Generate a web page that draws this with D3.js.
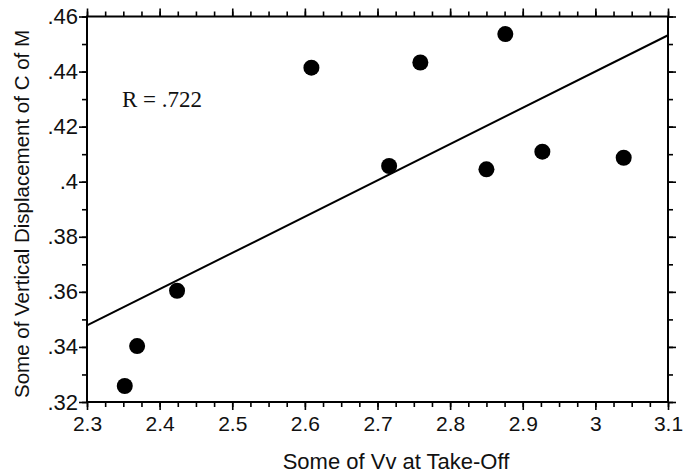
<!DOCTYPE html>
<html>
<head>
<meta charset="utf-8">
<script src="https://cdn.jsdelivr.net/npm/d3@7"></script>
<style>
  html, body { margin: 0; padding: 0; background: #fff; }
  svg { display: block; }
</style>
</head>
<body>
<svg id="chart" width="683" height="473"></svg>
<script>
// Sum of take-off vertical velocity vs. vertical displacement of centre of mass
const vvTakeOff = [2.352, 2.369, 2.424, 2.609, 2.716, 2.759, 2.876, 2.850, 2.927, 3.039];
const vertDisp  = [0.3258, 0.3403, 0.3604, 0.4414, 0.4057, 0.4433, 0.4536, 0.4045, 0.4109, 0.4087];

const xTicks = [2.3, 2.4, 2.5, 2.6, 2.7, 2.8, 2.9, 3.0, 3.1];
const xTickLabels = ["2.3", "2.4", "2.5", "2.6", "2.7", "2.8", "2.9", "3", "3.1"];
const yTicks = [0.32, 0.34, 0.36, 0.38, 0.40, 0.42, 0.44, 0.46];
const yTickLabels = [".32", ".34", ".36", ".38", ".4", ".42", ".44", ".46"];

const xTitle = "Some of Vv at Take-Off";
const yTitle = "Some of Vertical Displacement of C of M";
const rLabel = "R = .722";

const svg = d3.select("#chart");
const plotL = 87, plotR = 668, plotT = 16.5, plotB = 402;

const x = d3.scaleLinear().domain([2.3, 3.1]).range([plotL, plotR]);
const y = d3.scaleLinear().domain([0.32, 0.46]).range([plotB, plotT]);

const sans = "'Liberation Sans', Arial, Helvetica, sans-serif";
const serif = "'Liberation Serif', 'Times New Roman', serif";

// minor tick positions
const xMinor = d3.range(0, 33).map(i => 2.3 + i * 0.025);
const yMinor = d3.range(0, 15).map(i => 0.32 + i * 0.01);

function styleAxis(g) {
  g.select(".domain").remove();
  g.selectAll("line").attr("stroke", "#000").attr("stroke-width", 1.6);
  g.selectAll("text").attr("font-family", sans).attr("font-size", 21).attr("fill", "#111");
}

// minor ticks on all four sides
svg.append("g").attr("transform", `translate(0,${plotB})`)
  .call(d3.axisBottom(x).tickValues(xMinor).tickSize(5).tickFormat(""))
  .call(styleAxis);
svg.append("g").attr("transform", `translate(0,${plotT})`)
  .call(d3.axisTop(x).tickValues(xMinor).tickSize(5).tickFormat(""))
  .call(styleAxis);
svg.append("g").attr("transform", `translate(${plotL},0)`)
  .call(d3.axisLeft(y).tickValues(yMinor).tickSize(5).tickFormat(""))
  .call(styleAxis);
svg.append("g").attr("transform", `translate(${plotR},0)`)
  .call(d3.axisRight(y).tickValues(yMinor).tickSize(5).tickFormat(""))
  .call(styleAxis);

// major ticks with labels
svg.append("g").attr("transform", `translate(0,${plotB})`)
  .call(d3.axisBottom(x).tickValues(xTicks).tickSize(8).tickPadding(6)
    .tickFormat((d, i) => xTickLabels[i]))
  .call(styleAxis);
svg.append("g").attr("transform", `translate(0,${plotT})`)
  .call(d3.axisTop(x).tickValues(xTicks).tickSize(8).tickFormat(""))
  .call(styleAxis);
svg.append("g").attr("transform", `translate(${plotL},0)`)
  .call(d3.axisLeft(y).tickValues(yTicks).tickSize(8).tickPadding(1)
    .tickFormat((d, i) => yTickLabels[i]))
  .call(styleAxis)
  .call(g => g.selectAll("text").attr("font-size", 22));
svg.append("g").attr("transform", `translate(${plotR},0)`)
  .call(d3.axisRight(y).tickValues(yTicks).tickSize(8).tickFormat(""))
  .call(styleAxis);

// frame
svg.append("rect")
  .attr("x", plotL).attr("y", plotT)
  .attr("width", plotR - plotL).attr("height", plotB - plotT)
  .attr("fill", "none").attr("stroke", "#000").attr("stroke-width", 2);

// least-squares fit line
const n = vvTakeOff.length;
const mx = d3.mean(vvTakeOff), my = d3.mean(vertDisp);
let sxy = 0, sxx = 0;
for (let i = 0; i < n; i++) {
  sxy += (vvTakeOff[i] - mx) * (vertDisp[i] - my);
  sxx += (vvTakeOff[i] - mx) ** 2;
}
const slope = sxy / sxx, intercept = my - slope * mx;
const [x0, x1] = x.domain();
svg.append("line")
  .attr("x1", x(x0)).attr("y1", y(intercept + slope * x0))
  .attr("x2", x(x1)).attr("y2", y(intercept + slope * x1))
  .attr("stroke", "#000").attr("stroke-width", 2);

// data points
svg.append("g").selectAll("circle")
  .data(vvTakeOff.map((v, i) => [v, vertDisp[i]]))
  .join("circle")
  .attr("cx", d => x(d[0])).attr("cy", d => y(d[1]))
  .attr("r", 8).attr("fill", "#000");

// correlation label
svg.append("text")
  .attr("x", 122).attr("y", 107)
  .attr("font-family", serif).attr("font-size", 23).attr("fill", "#111")
  .text(rLabel);

// axis titles
svg.append("text")
  .attr("x", 396).attr("y", 469)
  .attr("text-anchor", "middle")
  .attr("font-family", sans).attr("font-size", 22).attr("fill", "#111")
  .text(xTitle);

svg.append("text")
  .attr("transform", `translate(29,214) rotate(-90)`)
  .attr("text-anchor", "middle")
  .attr("font-family", sans).attr("font-size", 20.5).attr("fill", "#111")
  .text(yTitle);
</script>
</body>
</html>
